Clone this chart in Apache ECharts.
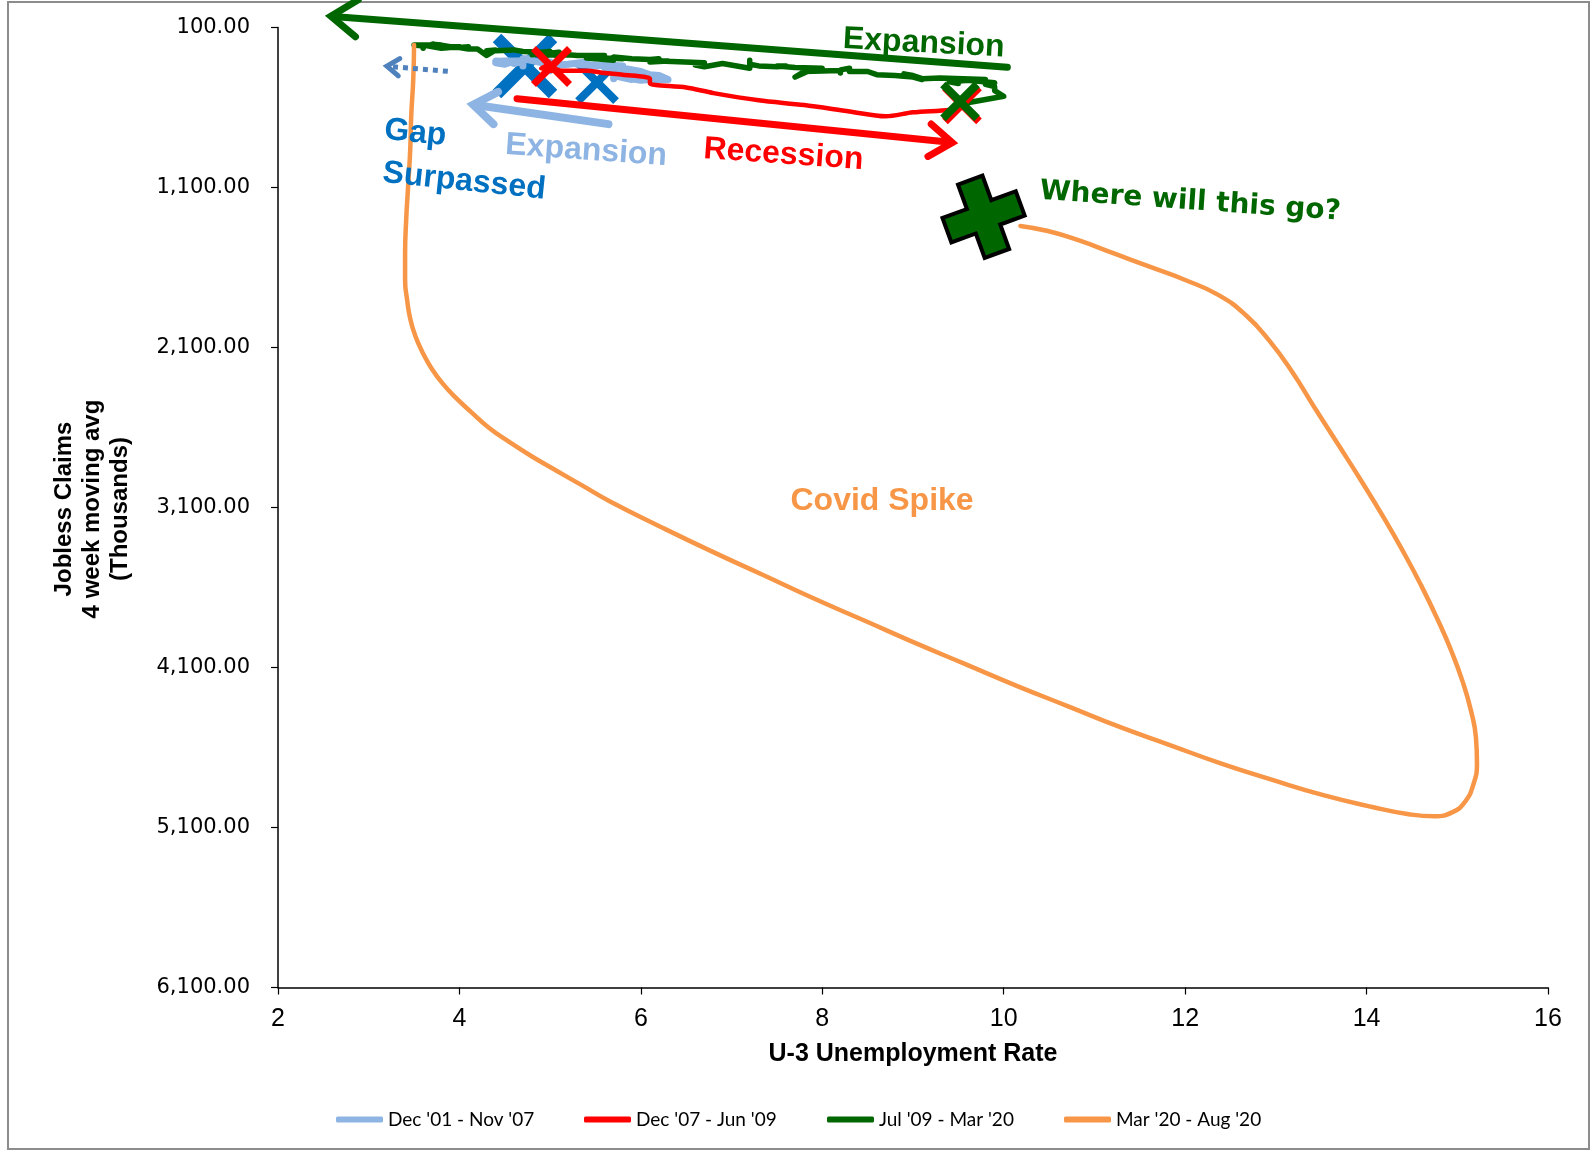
<!DOCTYPE html>
<html>
<head>
<meta charset="utf-8">
<script src="https://cdn.jsdelivr.net/npm/echarts@6/dist/echarts.min.js"></script>
<style>
html,body{margin:0;padding:0;background:#fff;}
#chart{width:1595px;height:1153px;}
</style>
</head>
<body>
<div id="chart"></div>
<script>
// ---------- DATA (x = U-3 unemployment rate %, y = jobless claims 4wk avg, thousands) ----------
const seriesNames = ["Dec '01 - Nov '07", "Dec '07 - Jun '09", "Jul '09 - Mar '20", "Mar '20 - Aug '20"];
const seriesColors = ['#8DB4E2', '#FF0000', '#006600', '#F79646'];

const expansion0107 = [
  [5.7,420],
  [5.7,380],[5.7,385],[5.7,400],[5.9,425],[5.8,410],[5.8,395],[5.8,380],[5.7,390],[5.7,405],[5.7,400],[5.9,380],[6.0,405],
  [5.8,385],[5.9,400],[5.9,420],[6.0,430],[6.1,425],[6.3,425],[6.2,400],[6.1,395],[6.1,390],[6.0,375],[5.8,355],[5.7,355],
  [5.7,345],[5.6,350],[5.8,340],[5.6,335],[5.6,340],[5.6,345],[5.5,340],[5.4,335],[5.4,345],[5.5,335],[5.4,335],[5.4,340],
  [5.3,330],[5.4,315],[5.2,330],[5.2,325],[5.1,335],[5.0,330],[5.0,315],[4.9,320],[5.0,370],[5.0,340],[5.0,315],[4.9,320],
  [4.7,295],[4.8,295],[4.7,305],[4.7,310],[4.6,325],[4.6,315],[4.7,310],[4.7,315],[4.5,310],[4.4,315],[4.5,320],[4.4,315],
  [4.6,310],[4.5,330],[4.4,320],[4.5,325],[4.4,310],[4.6,315],[4.7,305],[4.6,320],[4.7,315],[4.7,330],[4.7,340]
];

const recession0709 = [
  [5.0,340],[5.0,330],[4.9,355],[5.1,365],[5.0,370],[5.4,370],[5.6,385],[5.8,395],[6.1,420],[6.1,450],
  [6.5,475],[6.8,510],[7.3,555],[7.8,585],[8.3,625],[8.7,655],[9.0,630],[9.4,615],[9.5,600]
];

const expansion0920 = [
  [9.5,560],[9.6,570],[9.8,550],[10.0,530],[9.9,495],[9.9,470],
  [9.8,455],[9.8,465],[9.9,445],[9.9,440],[9.6,430],[9.4,440],[9.4,435],[9.5,450],[9.5,430],[9.4,435],[9.8,425],[9.3,415],
  [9.1,420],[9.0,400],[8.9,390],[9.0,405],[9.1,425],[9.1,420],[9.0,410],[9.0,405],[9.0,420],[8.8,400],[8.6,395],[8.5,375],
  [8.3,375],[8.3,355],[8.2,365],[8.2,375],[8.2,370],[8.2,385],[8.2,370],[8.1,370],[7.8,375],[7.8,365],[7.7,410],[7.9,360],
  [8.0,355],[7.7,350],[7.5,340],[7.6,340],[7.5,345],[7.5,345],[7.3,340],[7.2,330],[7.2,305],[7.2,355],[6.9,325],[6.7,345],
  [6.6,335],[6.7,335],[6.7,320],[6.2,310],[6.3,310],[6.1,315],[6.2,295],[6.1,300],[5.9,295],[5.7,285],[5.8,295],[5.6,290],
  [5.7,305],[5.5,295],[5.4,290],[5.4,285],[5.6,275],[5.3,275],[5.2,270],[5.1,275],[5.0,270],[5.0,260],[5.1,270],[5.0,270],
  [4.9,285],[4.9,270],[5.0,265],[5.1,255],[4.8,270],[4.9,265],[4.8,255],[4.9,260],[5.0,250],[4.9,255],[4.7,250],[4.7,260],
  [4.7,245],[4.6,240],[4.4,245],[4.4,245],[4.4,240],[4.3,245],[4.3,245],[4.4,240],[4.3,275],[4.2,235],[4.2,240],[4.1,235],
  [4.0,225],[4.1,220],[4.0,225],[4.0,225],[3.8,220],[4.0,225],[3.8,215],[3.8,210],[3.7,205],[3.8,210],[3.8,220],[3.9,220],
  [4.0,220],[3.8,230],[3.8,220],[3.6,210],[3.6,215],[3.6,220],[3.7,210],[3.7,215],[3.5,210],[3.6,215],[3.6,225],[3.6,230],
  [3.6,215],[3.5,210]
];

const covid20 = [
  [3.50,210],[3.491,424],[3.469,647],[3.457,870],[3.435,1086],[3.413,1302],[3.401,1518],[3.401,1678],[3.424,1805],
  [3.457,1919],[3.513,2027],[3.592,2129],[3.693,2231],[3.816,2326],[3.962,2415],[4.130,2504],[4.321,2600],
  [4.545,2689],[4.791,2778],[5.061,2867],[5.352,2962],[5.666,3064],[6.226,3223],[6.787,3376],[7.348,3522],
  [7.908,3669],[8.469,3808],[9.029,3948],[9.590,4082],[10.150,4216],[10.711,4343],[11.271,4470],[11.832,4585],
  [12.392,4699],[12.953,4801],[13.513,4896],[14.074,4973],[14.466,5017],[14.747,5030],[14.948,5004],[15.083,4941],
  [15.173,4839],[15.217,4699],[15.206,4540],[15.150,4368],[15.060,4190],[14.937,4000],[14.780,3796],[14.601,3586],
  [14.410,3382],[14.186,3160],[13.939,2931],[13.682,2702],[13.424,2473],[13.177,2250],[12.930,2059],[12.673,1900],
  [12.370,1773],[12.000,1678],[11.608,1595],[11.215,1512],[10.823,1429],[10.487,1372],[10.184,1340]
];

// axis ticks
const xTicks = { min: 2, max: 16, interval: 2 };
const yTicks = { min: 100, max: 6100, interval: 1000 };

// ---------- ANNOTATIONS (in data coordinates) ----------
const arrowsData = [
  { from: [10.04, 348], to: [2.583, 30], color: '#006600', width: 7, head: 32 },
  { from: [5.643, 704], to: [4.152, 583], color: '#8DB4E2', width: 8, head: 28 },
  { from: [4.635, 545], to: [9.433, 819], color: '#FF0000', width: 7, head: 28 },
  { from: [3.872, 374], to: [3.20, 342], color: '#4F81BD', width: 5, head: 15, dashed: true }
];
const crossesData = [
  { at: [4.723, 341], half: 28, width: 12, color: '#0070C0', z: 1 },
  { at: [5.517, 441], half: 19, width: 8, color: '#0070C0', z: 1 },
  { at: [5.015, 344], half: 18, width: 7, color: '#FF0000', z: 3 },
  { at: [9.54, 580], half: 17, width: 8, color: '#FF0000', z: 5 },
  { at: [9.518, 562], half: 17, width: 8, color: '#006600', z: 6 }
];
const labelsData = [
  { text: 'Expansion', at: [9.119, 200], color: '#006600', size: 32, rot: -3 },
  { text: 'Gap', at: [3.513, 760], color: '#0070C0', size: 32, rot: -6 },
  { text: 'Surpassed', at: [4.052, 1062], color: '#0070C0', size: 32, rot: -6 },
  { text: 'Expansion', at: [5.397, 870], color: '#8DB4E2', size: 32, rot: -4 },
  { text: 'Recession', at: [7.572, 895], color: '#FF0000', size: 32, rot: -4 },
  { text: 'Covid Spike', at: [8.659, 3060], color: '#F79646', size: 32, rot: 0 },
  { text: 'Where will this go?', at: [12.056, 1190], color: '#006600', size: 28, rot: -4, family: 'DejaVu Sans' }
];
const plusData = { at: [9.778, 1283], color: '#006600', rot: 20 };

const fmt = v => Number(v).toLocaleString('en-US', { minimumFractionDigits: 2, maximumFractionDigits: 2 });

const chart = echarts.init(document.getElementById('chart'), null, { renderer: 'canvas' });

const seriesData = [expansion0107, recession0709, expansion0920, covid20];
const seriesWidths = [7, 4.5, 5.5, 4.5];
const seriesSmooth = [false, 0.3, false, 0.5];

const legendLeft = [331, 579, 822, 1059];

const option = {
  animation: false,
  backgroundColor: '#ffffff',
  grid: { left: 278, top: 27.5, width: 1270, height: 960, containLabel: false },
  legend: seriesNames.map((n, i) => ({
    data: [n], left: legendLeft[i], top: 1105, icon: 'roundRect',
    itemWidth: 47, itemHeight: 6, selectedMode: false,
    textStyle: { fontFamily: 'Lato, "Open Sans", sans-serif', fontSize: 19, color: '#000' }
  })),
  xAxis: {
    type: 'value', min: xTicks.min, max: xTicks.max, interval: xTicks.interval,
    name: 'U-3 Unemployment Rate', nameLocation: 'middle', nameGap: 54,
    nameTextStyle: { fontFamily: '"Liberation Sans", Arial, sans-serif', fontWeight: 'bold', fontSize: 25, color: '#000' },
    axisLine: { onZero: false, lineStyle: { color: '#000', width: 1.5 } },
    axisTick: { show: true, inside: false, length: 7, lineStyle: { color: '#000', width: 1.2 } },
    axisLabel: { margin: 19, fontFamily: '"Liberation Sans Narrow", "Liberation Sans", Arial, sans-serif', fontSize: 25, color: '#000' },
    splitLine: { show: false }
  },
  yAxis: {
    type: 'value', inverse: true, min: yTicks.min, max: yTicks.max, interval: yTicks.interval,
    axisLine: { show: true, onZero: false, lineStyle: { color: '#000', width: 1.5 } },
    axisTick: { show: true, inside: false, length: 7, lineStyle: { color: '#000', width: 1.2 } },
    axisLabel: { margin: 28, formatter: fmt, fontFamily: '"DejaVu Sans", sans-serif', fontSize: 21, color: '#000' },
    splitLine: { show: false }
  },
  series: seriesNames.map((n, i) => ({
    name: n, type: 'line', data: seriesData[i], showSymbol: false, symbol: 'none',
    smooth: seriesSmooth[i], clip: false, z: 2 + i * 0.01,
    lineStyle: { color: seriesColors[i], width: seriesWidths[i], cap: 'round', join: 'round' },
    itemStyle: { color: seriesColors[i] }
  })),
  graphic: []
};
chart.setOption(option);

// ----- build annotation graphics via axis scales -----
const P = p => chart.convertToPixel({ xAxisIndex: 0, yAxisIndex: 0 }, p);
const g = [];

// outer border
g.push({ type: 'rect', z: 0, shape: { x: 8, y: 2, width: 1581, height: 1147 },
  style: { fill: 'none', stroke: '#8c8c8c', lineWidth: 2 }, silent: true });

// y axis title (3 lines, rotated)
g.push({ type: 'text', z: 20, x: 92, y: 509, rotation: Math.PI / 2,
  style: { text: 'Jobless Claims\n4 week moving avg\n(Thousands)', fill: '#000', align: 'center', verticalAlign: 'middle',
    font: 'bold 24px "Liberation Sans", Arial, sans-serif', lineHeight: 28 } });

function rot(v, a) { const c = Math.cos(a), s = Math.sin(a); return [v[0] * c - v[1] * s, v[0] * s + v[1] * c]; }

arrowsData.forEach(a => {
  const f = P(a.from), t = P(a.to);
  let d = [t[0] - f[0], t[1] - f[1]]; const L = Math.hypot(d[0], d[1]); d = [d[0] / L, d[1] / L];
  const back = [-d[0], -d[1]];
  const r1 = rot(back, 0.62), r2 = rot(back, -0.62);
  const p1 = [t[0] + r1[0] * a.head, t[1] + r1[1] * a.head];
  const p2 = [t[0] + r2[0] * a.head, t[1] + r2[1] * a.head];
  g.push({ type: 'polyline', z: 8, shape: { points: [f, [t[0] - d[0] * 2, t[1] - d[1] * 2]] },
    style: { stroke: a.color, lineWidth: a.width, lineCap: a.dashed ? 'butt' : 'round', fill: 'none',
      lineDash: a.dashed ? [5, 5] : null } });
  g.push({ type: 'polyline', z: 8, shape: { points: [p1, t, p2] },
    style: { stroke: a.color, lineWidth: a.width, lineCap: 'round', lineJoin: 'miter', fill: 'none' } });
});

crossesData.forEach(c => {
  const p = P(c.at), h = c.half;
  g.push({ type: 'polyline', z: c.z, shape: { points: [[p[0] - h, p[1] - h], [p[0] + h, p[1] + h]] },
    style: { stroke: c.color, lineWidth: c.width, lineCap: 'butt', fill: 'none' } });
  g.push({ type: 'polyline', z: c.z, shape: { points: [[p[0] + h, p[1] - h], [p[0] - h, p[1] + h]] },
    style: { stroke: c.color, lineWidth: c.width, lineCap: 'butt', fill: 'none' } });
});

labelsData.forEach(l => {
  const p = P(l.at);
  g.push({ type: 'text', z: 9, x: p[0], y: p[1], rotation: l.rot * Math.PI / 180,
    style: { text: l.text, fill: l.color, align: 'center', verticalAlign: 'middle',
      font: 'bold ' + l.size + 'px ' + (l.family ? '"' + l.family + '"' : '"Liberation Sans", Arial') + ', sans-serif' } });
});

// plus sign
(function () {
  const p = P(plusData.at), L = 39, t = 13;
  const pts = [[-t, -L], [t, -L], [t, -t], [L, -t], [L, t], [t, t], [t, L], [-t, L], [-t, t], [-L, t], [-L, -t], [-t, -t]];
  g.push({ type: 'polygon', z: 9, x: p[0], y: p[1], rotation: plusData.rot * Math.PI / 180,
    shape: { points: pts }, style: { fill: plusData.color, stroke: '#000', lineWidth: 4, lineJoin: 'miter' } });
})();

chart.setOption({ graphic: g });
</script>
</body>
</html>
